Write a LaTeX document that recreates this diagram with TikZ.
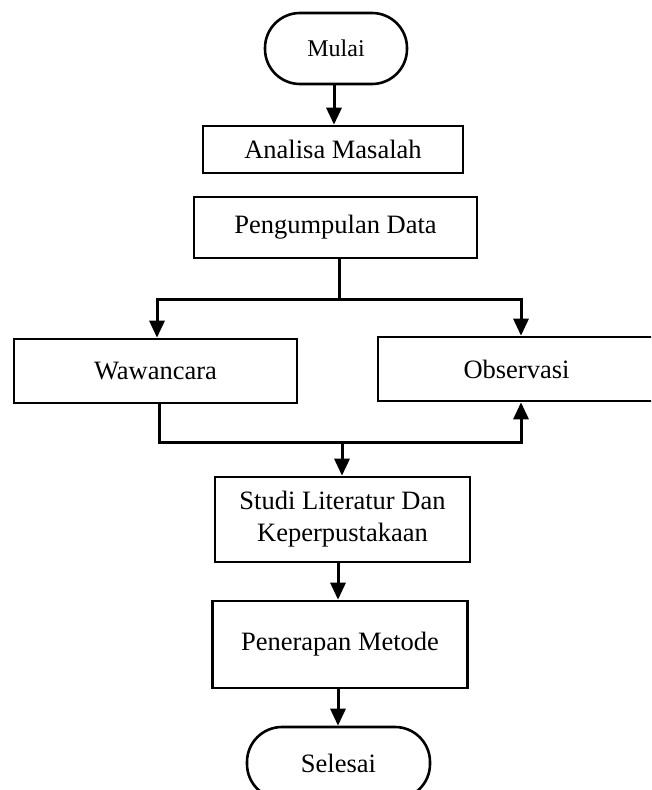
\documentclass[tikz,border=0pt]{standalone}
\usepackage{fontspec}
\setmainfont{Liberation Serif}
\usetikzlibrary{arrows.meta}
\tikzset{
  boxstyle/.style={draw=black, line width=2.6pt, fill=white, inner sep=0pt, align=center,
    font=\fontsize{26.5}{32}\selectfont},
  termstyle/.style={boxstyle, rounded corners=35pt},
  conn/.style={draw=black, line width=3pt},
  arr/.style={conn, -{Triangle[length=17pt,width=15pt]}}
}
\begin{document}
\begin{tikzpicture}[x=1pt,y=-1pt]
\useasboundingbox (0,0) rectangle (651,790);
\begin{scope}
\clip (0,0) rectangle (651,790);
% nodes
\node[termstyle, minimum width=142pt, minimum height=71pt, font=\fontsize{24}{28}\selectfont] (mulai) at (336,48.5) {Mulai};
\node[boxstyle, minimum width=260pt, minimum height=47pt] (analisa) at (333,149.5) {Analisa Masalah};
\node[boxstyle, minimum width=283pt, minimum height=61pt] (peng) at (335.5,227.5) {Pengumpulan Data};
\node[boxstyle, minimum width=283pt, minimum height=64pt] (waw) at (155.5,371) {Wawancara};
\node[boxstyle, minimum width=277pt, minimum height=64pt] (obs) at (516.5,369) {Observasi};
\node[boxstyle, minimum width=255pt, minimum height=85pt] (studi) at (342.5,519.5) {Studi Literatur Dan\\Keperpustakaan};
\node[boxstyle, minimum width=255pt, minimum height=87pt] (pen) at (340,644.5) {Penerapan Metode};
\node[termstyle, minimum width=183pt, minimum height=72pt] (selesai) at (338.5,763) {Selesai};
% coordinates
\coordinate (b1) at (339,299);
\coordinate (oA) at (521,299);
\coordinate (wA) at (157,299);
\coordinate (j1) at (159,442);
\coordinate (j2) at (342,442);
% connectors
\draw[arr] (mulai.south -| 334,0) -- (334,0 |- analisa.north);
\draw[conn] (peng.south -| b1) -- (b1);
\draw[arr] (b1) -- (wA) -- (wA |- waw.north);
\draw[arr] (b1) -- (oA) -- (oA |- obs.north);
\draw[arr] (waw.south -| j1) -- (j1) -| (oA |- obs.south);
\draw[arr] (j2) -- (j2 |- studi.north);
\draw[arr] (studi.south -| 338,0) -- (338,0 |- pen.north);
\draw[arr] (pen.south -| 338,0) -- (338,0 |- selesai.north);
\end{scope}
\end{tikzpicture}
\end{document}
